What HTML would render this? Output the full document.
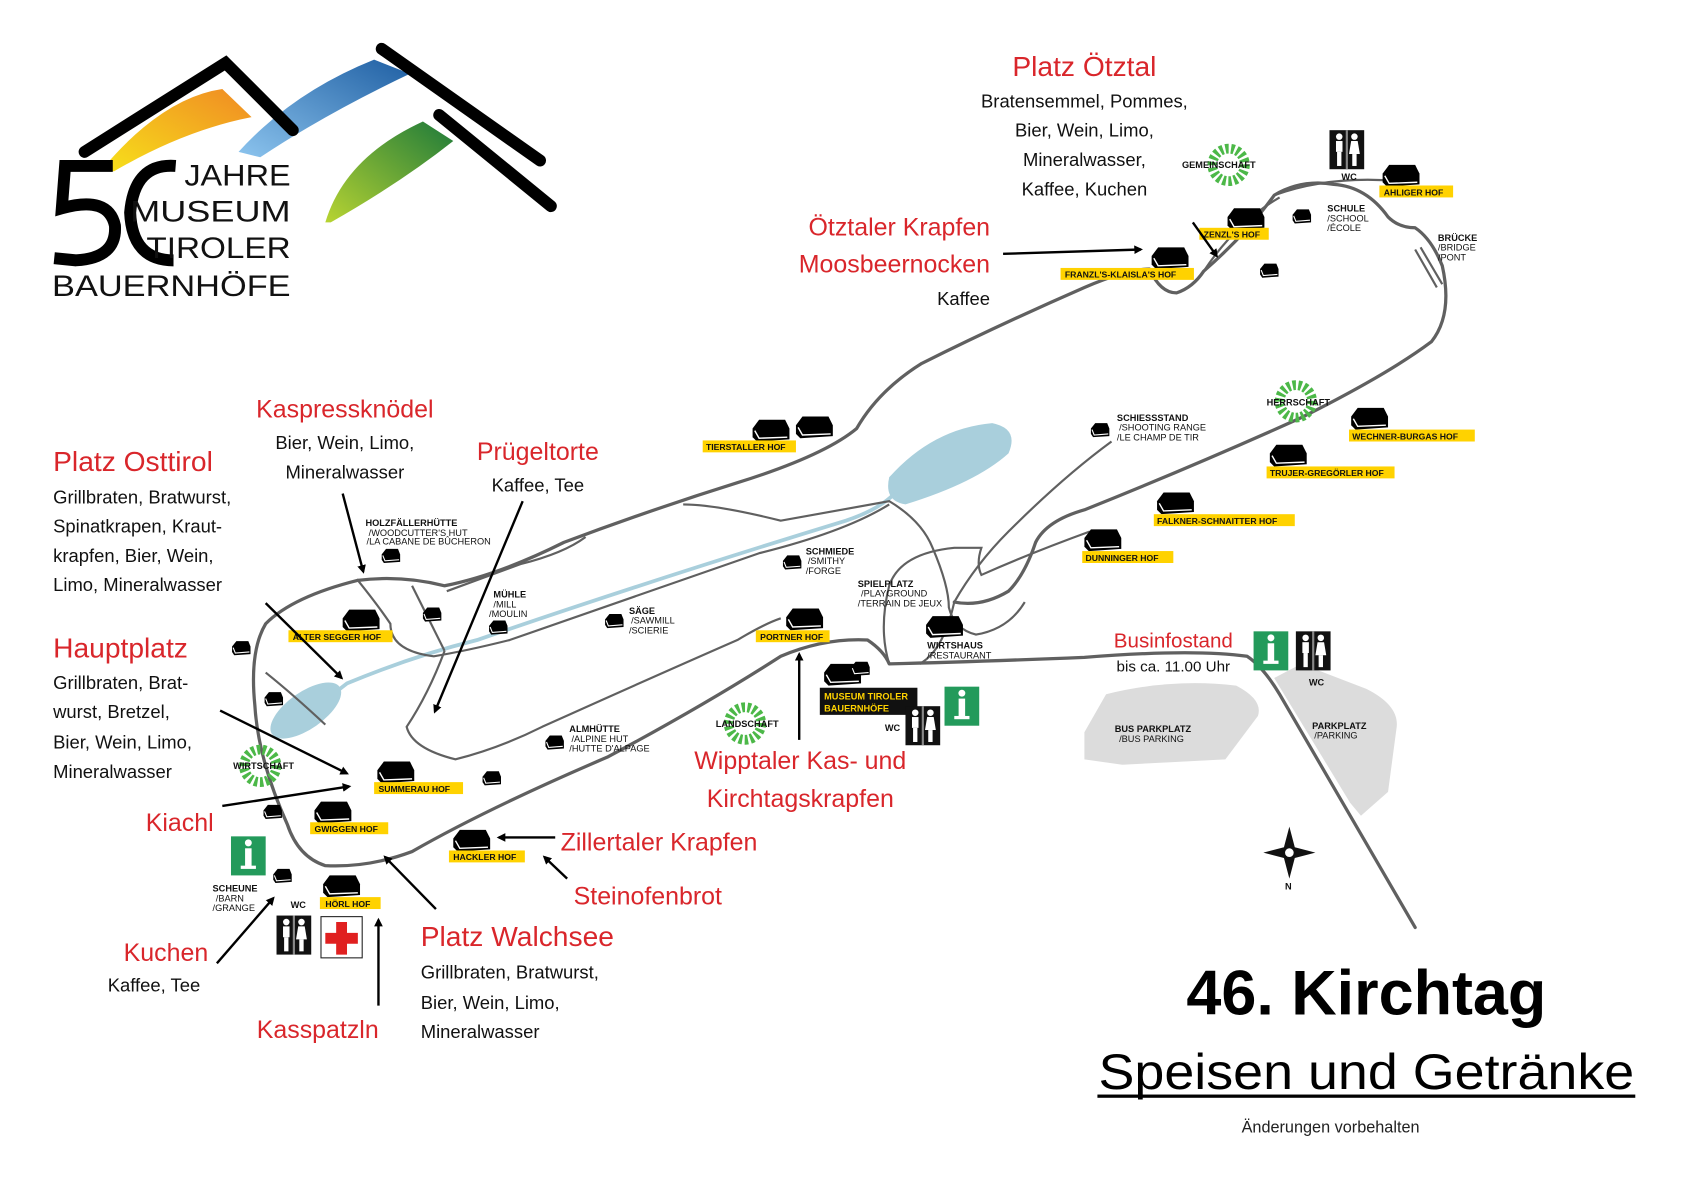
<!DOCTYPE html>
<html><head><meta charset="utf-8"><style>
html,body{margin:0;padding:0;background:#fff;width:1683px;height:1190px;overflow:hidden}
svg{display:block}
text{font-family:"Liberation Sans",sans-serif}
.r{fill:#d9262b;font-size:23px}
.b{fill:#111;font-size:17px}
.s{fill:#111;font-size:8.5px;font-weight:bold}
.t{fill:#111;font-size:8.5px}
.y{fill:#ffd200}
.yl{fill:#111;font-size:8px;font-weight:bold}
.road{fill:none;stroke:#606060;stroke-width:3;stroke-linecap:round;stroke-linejoin:round}
.rd2{fill:none;stroke:#606060;stroke-width:2}
.ar{stroke:#000;stroke-width:2.2;fill:none}
</style></head><body>
<svg width="1683" height="1190" viewBox="0 0 1552 1097" preserveAspectRatio="none" xmlns="http://www.w3.org/2000/svg">
<defs>
<linearGradient id="go" x1="0" y1="1" x2="1" y2="0"><stop offset="0" stop-color="#f7e11a"/><stop offset="1" stop-color="#f08a24"/></linearGradient>
<linearGradient id="gb" x1="0" y1="1" x2="1" y2="0"><stop offset="0" stop-color="#8cc4ee"/><stop offset="1" stop-color="#1f5fa3"/></linearGradient>
<linearGradient id="gg" x1="0" y1="1" x2="1" y2="0"><stop offset="0" stop-color="#b8d432"/><stop offset="1" stop-color="#1e7a3a"/></linearGradient>
<marker id="m" markerWidth="8" markerHeight="8" refX="6" refY="4" orient="auto" markerUnits="userSpaceOnUse"><path d="M0,0 L8,4 L0,8 Z" fill="#000"/></marker>
<g id="h"><path d="M0,8 L6,0 L30,0 L34,8 L34,18 L4,20 L0,16 Z" fill="#000"/><path d="M2,10 L6,17 L32,16" stroke="#fff" stroke-width="1.3" fill="none"/></g>
<g id="hs"><path d="M0,5 L4,0 L15,0 L17,5 L17,12 L2,13 L0,10 Z" fill="#000"/><path d="M1,6 L3,11 L16,10" stroke="#fff" stroke-width="1" fill="none"/></g>
<g id="sun"><circle r="15" fill="none" stroke="#4cb848" stroke-width="9" stroke-dasharray="3 2.2"/></g>
<g id="info"><rect x="-16" y="-18" width="32" height="36" fill="#239a5b"/><rect x="-3" y="-7" width="6" height="17" fill="#fff"/><circle cx="0" cy="-12" r="3.2" fill="#fff"/><rect x="-7" y="9" width="14" height="3" fill="#fff"/></g>
<g id="wc"><rect x="-16" y="-18" width="32" height="36" fill="#111"/><circle cx="-7" cy="-12" r="3" fill="#fff"/><rect x="-10" y="-8" width="6" height="10" fill="#fff"/><rect x="-9" y="2" width="4" height="13" fill="#fff"/><circle cx="7" cy="-12" r="3" fill="#fff"/><path d="M4,-8 L10,-8 L12,4 L2,4 Z" fill="#fff"/><rect x="5" y="4" width="4" height="11" fill="#fff"/><rect x="-1" y="-18" width="2" height="36" fill="#888"/></g>
</defs>

<!-- logo -->
<path d="M95,155 Q150,90 205,82 L232,108 Q170,120 105,158 Z" fill="url(#go)"/>
<path d="M220,140 Q270,85 345,55 L378,68 Q300,105 240,145 Z" fill="url(#gb)"/>
<path d="M300,205 Q318,145 390,112 L418,130 Q370,168 305,205 Z" fill="url(#gg)"/>
<path d="M78,140 L208,58 L270,120" stroke="#000" stroke-width="11" fill="none" stroke-linecap="round"/>
<path d="M352,45 L498,148" stroke="#000" stroke-width="11" fill="none" stroke-linecap="round"/>
<path d="M405,106 L508,190" stroke="#000" stroke-width="11" fill="none" stroke-linecap="round"/>
<path d="M104,153 L60,153 L57,192 Q100,180 106,208 Q108,238 70,240 L50,238" stroke="#000" stroke-width="11" fill="none"/>
<path d="M162,153 Q124,150 120,196 Q122,240 160,240" stroke="#000" stroke-width="11" fill="none"/>
<text x="170" y="171" textLength="98" lengthAdjust="spacingAndGlyphs" style="font-size:27px;fill:#111">JAHRE</text>
<text x="120" y="204" textLength="148" lengthAdjust="spacingAndGlyphs" style="font-size:27px;fill:#111">MUSEUM</text>
<text x="135" y="238" textLength="133" lengthAdjust="spacingAndGlyphs" style="font-size:27px;fill:#111">TIROLER</text>
<text x="48" y="273" textLength="220" lengthAdjust="spacingAndGlyphs" style="font-size:27px;fill:#111">BAUERNHÖFE</text>

<!-- water -->
<ellipse cx="282" cy="655" rx="38" ry="17" transform="rotate(-35 282 655)" fill="#a9cfdc"/>
<path d="M820,440 Q860,395 915,390 Q940,395 930,418 Q900,445 835,465 Q815,462 820,440 Z" fill="#a9cfdc"/>
<path d="M255,680 L320,630 Q380,605 440,590 Q600,535 780,480 Q810,470 825,455" stroke="#a9cfdc" stroke-width="3.5" fill="none"/>

<!-- parking -->
<path d="M1000,675 L1020,640 Q1080,625 1140,632 Q1165,645 1160,660 L1130,700 L1035,705 L1000,700 Z" fill="#dcdcdc"/>
<path d="M1175,625 L1200,612 L1260,635 Q1290,650 1288,670 L1280,730 L1255,752 L1245,740 Z" fill="#dcdcdc"/>

<!-- roads -->
<path class="road" d="M330,535 Q270,550 245,575 Q230,600 235,650 Q238,700 265,760 Q275,790 300,798 Q340,800 380,785 Q450,745 560,698 Q650,650 720,605 Q760,588 800,590 Q815,600 820,612 Q900,610 1000,606 Q1100,598 1150,605 Q1165,615 1180,640 L1305,855"/>
<path class="road" d="M330,535 Q370,530 410,540 Q460,530 520,500 Q600,470 680,445 Q760,420 790,395 Q810,360 850,335 Q920,300 1000,265 Q1040,248 1060,248 Q1070,270 1085,270 Q1100,265 1110,250 Q1150,215 1175,180 Q1200,165 1230,170 Q1260,172 1280,200 Q1290,210 1305,210 Q1320,220 1330,245 Q1340,290 1320,315 Q1280,345 1200,385 Q1100,430 1000,470 Q965,480 955,500 Q945,530 930,545 Q905,560 880,555"/>
<path class="rd2" d="M1110,250 Q1140,205 1180,182 M1175,180 Q1230,160 1300,168"/>
<path class="rd2" d="M1305,230 L1325,265"/><path class="rd2" d="M1310,228 L1330,262"/>
<path class="rd2" d="M330,535 Q350,560 360,575 Q360,600 400,605 Q430,600 470,590 Q600,545 700,510 Q780,490 820,465"/>
<path class="rd2" d="M380,540 Q395,570 410,600"/>
<path class="rd2" d="M410,600 Q395,640 375,670 Q380,690 420,700 Q460,690 500,670 Q600,625 680,590 Q705,575 720,570"/>
<path class="rd2" d="M540,495 Q520,510 480,520 L412,545"/>
<path class="rd2" d="M630,465 Q660,465 720,480 L820,462 Q850,480 860,505 Q875,540 875,560 Q880,580 900,585 Q930,580 945,555"/>
<path class="rd2" d="M820,612 Q810,580 820,540 Q830,510 880,505 L905,505 Q900,520 905,530 Q950,510 1005,490"/>
<path class="rd2" d="M880,555 Q900,520 930,490 Q980,440 1025,407"/>
<path class="rd2" d="M848,612 Q870,600 880,555"/>
<path class="rd2" d="M245,620 Q270,640 300,668"/>

<!-- houses + labels -->
<use href="#h" x="1132" y="192"/><rect class="y" x="1106" y="210" width="64" height="11"/><text class="yl" x="1110" y="219">ZENZL'S HOF</text>
<use href="#h" x="1275" y="152"/><rect class="y" x="1272" y="171" width="68" height="11"/><text class="yl" x="1276" y="180">AHLIGER HOF</text>
<use href="#h" x="1062" y="228"/><rect class="y" x="978" y="247" width="123" height="11"/><text class="yl" x="982" y="256">FRANZL'S-KLAISLA'S HOF</text>
<use href="#hs" x="1192" y="193"/><use href="#hs" x="1162" y="243"/>
<text class="s" x="1224" y="195">SCHULE</text><text class="t" x="1224" y="204">/SCHOOL</text><text class="t" x="1224" y="213">/ÉCOLE</text>
<text class="s" x="1326" y="222">BRÜCKE</text><text class="t" x="1326" y="231">/BRIDGE</text><text class="t" x="1326" y="240">/PONT</text>
<use href="#sun" x="1133" y="152"/><text class="s" x="1090" y="155">GEMEINSCHAFT</text>
<use href="#wc" x="1242" y="138"/><text class="s" x="1237" y="166">WC</text>

<use href="#h" x="694" y="387"/><use href="#h" x="734" y="384"/><rect class="y" x="648" y="406" width="86" height="11"/><text class="yl" x="651" y="415">TIERSTALLER HOF</text>
<use href="#hs" x="1006" y="390"/><text class="s" x="1030" y="388">SCHIESSSTAND</text><text class="t" x="1032" y="397">/SHOOTING RANGE</text><text class="t" x="1030" y="406">/LE CHAMP DE TIR</text>
<use href="#sun" x="1195" y="370"/><text class="s" x="1168" y="374">HERRSCHAFT</text>
<use href="#h" x="1246" y="376"/><rect class="y" x="1244" y="396" width="116" height="11"/><text class="yl" x="1247" y="405">WECHNER-BURGAS HOF</text>
<use href="#h" x="1171" y="410"/><rect class="y" x="1168" y="430" width="118" height="11"/><text class="yl" x="1171" y="439">TRUJER-GREGÖRLER HOF</text>
<use href="#h" x="1067" y="454"/><rect class="y" x="1064" y="474" width="130" height="11"/><text class="yl" x="1067" y="483">FALKNER-SCHNAITTER HOF</text>
<use href="#h" x="1000" y="488"/><rect class="y" x="998" y="508" width="84" height="11"/><text class="yl" x="1001" y="517">DUNNINGER HOF</text>

<use href="#hs" x="352" y="506"/><text class="s" x="337" y="485">HOLZFÄLLERHÜTTE</text><text class="t" x="340" y="494">/WOODCUTTER'S HUT</text><text class="t" x="338" y="502">/LA CABANE DE BÛCHERON</text>
<use href="#hs" x="390" y="560"/>
<use href="#hs" x="451" y="572"/><text class="s" x="455" y="551">MÜHLE</text><text class="t" x="455" y="560">/MILL</text><text class="t" x="451" y="569">/MOULIN</text>
<use href="#hs" x="558" y="566"/><text class="s" x="580" y="566">SÄGE</text><text class="t" x="582" y="575">/SAWMILL</text><text class="t" x="580" y="584">/SCIERIE</text>
<use href="#hs" x="722" y="512"/><text class="s" x="743" y="511">SCHMIEDE</text><text class="t" x="745" y="520">/SMITHY</text><text class="t" x="743" y="529">/FORGE</text>
<text class="s" x="791" y="541">SPIELPLATZ</text><text class="t" x="794" y="550">/PLAYGROUND</text><text class="t" x="791" y="559">/TERRAIN DE JEUX</text>
<use href="#h" x="854" y="568"/><text class="s" x="855" y="598">WIRTSHAUS</text><text class="t" x="855" y="607">/RESTAURANT</text>
<use href="#h" x="316" y="562"/><rect class="y" x="266" y="581" width="96" height="11"/><text class="yl" x="270" y="590">ALTER SEGGER HOF</text>
<use href="#hs" x="214" y="591"/><use href="#hs" x="244" y="638"/>
<use href="#h" x="725" y="561"/><rect class="y" x="697" y="581" width="68" height="11"/><text class="yl" x="701" y="590">PORTNER HOF</text>
<use href="#h" x="760" y="612"/><use href="#hs" x="785" y="610"/>
<rect x="756" y="634" width="90" height="25" fill="#111"/><text x="760" y="645" style="fill:#ffd200;font-size:8.5px;font-weight:bold">MUSEUM TIROLER</text><text x="760" y="656" style="fill:#ffd200;font-size:8.5px;font-weight:bold">BAUERNHÖFE</text>
<use href="#info" x="887" y="651"/><use href="#wc" x="851" y="669"/><text class="s" x="816" y="674">WC</text>
<use href="#sun" x="687" y="667"/><text class="s" x="660" y="670">LANDSCHAFT</text>
<use href="#hs" x="503" y="678"/><text class="s" x="525" y="675">ALMHÜTTE</text><text class="t" x="527" y="684">/ALPINE HUT</text><text class="t" x="525" y="693">/HUTTE D'ALPAGE</text>
<use href="#hs" x="445" y="711"/>
<use href="#h" x="348" y="702"/><rect class="y" x="345" y="721" width="82" height="11"/><text class="yl" x="349" y="730">SUMMERAU HOF</text>
<use href="#hs" x="243" y="742"/>
<use href="#h" x="290" y="739"/><rect class="y" x="286" y="758" width="72" height="11"/><text class="yl" x="290" y="767">GWIGGEN HOF</text>
<use href="#h" x="418" y="765"/><rect class="y" x="414" y="784" width="70" height="11"/><text class="yl" x="418" y="793">HACKLER HOF</text>
<use href="#h" x="298" y="807"/><rect class="y" x="295" y="827" width="56" height="11"/><text class="yl" x="300" y="836">HÖRL HOF</text>
<use href="#hs" x="252" y="801"/><text class="s" x="196" y="822">SCHEUNE</text><text class="t" x="199" y="831">/BARN</text><text class="t" x="196" y="840">/GRANGE</text>
<text class="s" x="268" y="837">WC</text>
<use href="#sun" x="240" y="706"/><text class="s" x="215" y="709">WIRTSCHAFT</text>
<use href="#info" x="229" y="789"/><use href="#wc" x="271" y="862"/>
<rect x="296" y="845" width="38" height="38" fill="#fff" stroke="#222"/><path d="M310,850 h10 v10 h10 v10 h-10 v10 h-10 v-10 h-10 v-10 h10 Z" fill="#e02020"/>
<use href="#info" x="1172" y="600"/><use href="#wc" x="1211" y="600"/><text class="s" x="1207" y="632">WC</text>
<text class="s" x="1028" y="675">BUS PARKPLATZ</text><text class="t" x="1032" y="684">/BUS PARKING</text>
<text class="s" x="1210" y="672">PARKPLATZ</text><text class="t" x="1212" y="681">/PARKING</text>
<path d="M1189,762 L1194,781 L1213,786 L1194,791 L1189,810 L1184,791 L1165,786 L1184,781 Z" fill="#111"/><circle cx="1189" cy="786" r="5" fill="#fff" stroke="#111" stroke-width="2"/><text class="s" x="1185" y="820">N</text>

<!-- labels -->
<text class="r" x="1000" y="70" text-anchor="middle" style="font-size:26px">Platz Ötztal</text>
<g class="b" text-anchor="middle"><text x="1000" y="99">Bratensemmel, Pommes,</text><text x="1000" y="126">Bier, Wein, Limo,</text><text x="1000" y="153">Mineralwasser,</text><text x="1000" y="180">Kaffee, Kuchen</text></g>
<text class="r" x="913" y="217" text-anchor="end">Ötztaler Krapfen</text>
<text class="r" x="913" y="251" text-anchor="end">Moosbeernocken</text>
<text class="b" x="913" y="281" text-anchor="end">Kaffee</text>
<path class="ar" d="M925,234 L1052,230" marker-end="url(#m)"/>
<path class="ar" d="M1100,205 L1122,236" marker-end="url(#m)"/>

<text class="r" x="318" y="385" text-anchor="middle">Kaspressknödel</text>
<text class="b" x="318" y="414" text-anchor="middle">Bier, Wein, Limo,</text>
<text class="b" x="318" y="441" text-anchor="middle">Mineralwasser</text>
<path class="ar" d="M316,455 L335,527" marker-end="url(#m)"/>
<text class="r" x="496" y="424" text-anchor="middle">Prügeltorte</text>
<text class="b" x="496" y="453" text-anchor="middle">Kaffee, Tee</text>
<path class="ar" d="M482,462 L401,656" marker-end="url(#m)"/>

<text class="r" x="49" y="434" style="font-size:26px">Platz Osttirol</text>
<g class="b"><text x="49" y="464">Grillbraten, Bratwurst,</text><text x="49" y="491">Spinatkrapen, Kraut-</text><text x="49" y="518">krapfen, Bier, Wein,</text><text x="49" y="545">Limo, Mineralwasser</text></g>
<path class="ar" d="M245,556 L315,625" marker-end="url(#m)"/>
<text class="r" x="49" y="606" style="font-size:26px">Hauptplatz</text>
<g class="b"><text x="49" y="635">Grillbraten, Brat-</text><text x="49" y="662">wurst, Bretzel,</text><text x="49" y="690">Bier, Wein, Limo,</text><text x="49" y="717">Mineralwasser</text></g>
<path class="ar" d="M203,655 L320,713" marker-end="url(#m)"/>
<text class="r" x="197" y="766" text-anchor="end">Kiachl</text>
<path class="ar" d="M205,743 L322,725" marker-end="url(#m)"/>
<text class="r" x="192" y="886" text-anchor="end">Kuchen</text>
<text class="b" x="142" y="914" text-anchor="middle">Kaffee, Tee</text>
<path class="ar" d="M200,888 L252,828" marker-end="url(#m)"/>
<text class="r" x="293" y="957" text-anchor="middle">Kasspatzln</text>
<path class="ar" d="M349,927 L349,848" marker-end="url(#m)"/>
<text class="r" x="388" y="872" style="font-size:26px">Platz Walchsee</text>
<g class="b"><text x="388" y="902">Grillbraten, Bratwurst,</text><text x="388" y="930">Bier, Wein, Limo,</text><text x="388" y="957">Mineralwasser</text></g>
<path class="ar" d="M402,838 L355,790" marker-end="url(#m)"/>
<text class="r" x="517" y="784">Zillertaler Krapfen</text>
<path class="ar" d="M512,772 L460,772" marker-end="url(#m)"/>
<text class="r" x="529" y="834">Steinofenbrot</text>
<path class="ar" d="M523,810 L502,790" marker-end="url(#m)"/>
<text class="r" x="738" y="709" text-anchor="middle">Wipptaler Kas- und</text>
<text class="r" x="738" y="744" text-anchor="middle">Kirchtagskrapfen</text>
<path class="ar" d="M737,682 L737,603" marker-end="url(#m)"/>
<text class="r" x="1082" y="597" text-anchor="middle" style="font-size:19px">Businfostand</text>
<text class="b" x="1082" y="619" text-anchor="middle" style="font-size:14px">bis ca. 11.00 Uhr</text>

<text x="1260" y="935" text-anchor="middle" style="font-size:58px;font-weight:bold;fill:#000">46. Kirchtag</text>
<text x="1260" y="1004" text-anchor="middle" textLength="494" lengthAdjust="spacingAndGlyphs" style="font-size:46px;fill:#000">Speisen und Getränke</text>
<rect x="1012" y="1009" width="496" height="3" fill="#000"/>
<text x="1227" y="1044" text-anchor="middle" style="font-size:15px;fill:#222">Änderungen vorbehalten</text>
</svg>
</body></html>
